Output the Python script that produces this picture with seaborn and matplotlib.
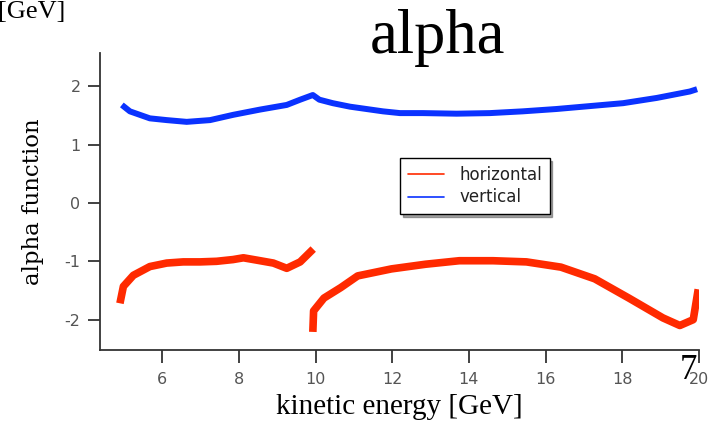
import matplotlib
matplotlib.use("Agg")
import matplotlib.pyplot as plt
import seaborn as sns
import pandas as pd
from matplotlib.lines import Line2D

# ---- data ----
vert_x = [4.95, 5.16, 5.68, 6.12, 6.64, 7.25, 7.85, 8.55, 9.25, 9.6, 9.93, 10.1,
          10.45, 10.9, 11.76, 12.2, 12.8, 13.68, 14.55, 15.4, 16.28, 17.15, 18.02,
          18.9, 19.76, 19.95]
vert_y = [1.68, 1.57, 1.45, 1.42, 1.39, 1.42, 1.51, 1.60, 1.68, 1.77, 1.85, 1.77,
          1.71, 1.65, 1.57, 1.54, 1.54, 1.53, 1.54, 1.57, 1.61, 1.66, 1.71,
          1.80, 1.91, 1.95]

hor1_x = [4.90, 4.99, 5.25, 5.68, 6.12, 6.55, 6.99, 7.42, 7.85, 8.12, 8.47, 8.90,
          9.25, 9.60, 9.94]
hor1_y = [-1.72, -1.43, -1.24, -1.09, -1.03, -1.01, -1.01, -1.00, -0.97, -0.94,
          -0.98, -1.03, -1.12, -1.01, -0.79]

hor2_x = [9.93, 9.95, 10.22, 10.66, 11.10, 11.98, 12.87, 13.75, 14.63, 15.50,
          16.40, 17.28, 18.17, 19.06, 19.50, 19.85, 19.98]
hor2_y = [-2.21, -1.85, -1.63, -1.45, -1.25, -1.13, -1.05, -0.99, -0.99, -1.01,
          -1.10, -1.30, -1.63, -1.97, -2.10, -2.00, -1.48]

x_ticks = [6, 8, 10, 12, 14, 16, 18, 20]
y_ticks = [-2, -1, 0, 1, 2]
series_names = ["horizontal", "vertical"]

RED = "#ff2a00"
BLUE = "#0a32ff"

sns.set_theme(style="ticks")
plt.rcParams["font.family"] = ["DejaVu Sans"]
plt.rcParams["text.color"] = "black"
plt.rcParams["axes.labelcolor"] = "black"

fig = plt.figure(figsize=(7.11, 4.23), dpi=100)
ax = fig.add_axes([100 / 711, 73 / 423, 599 / 711, 297 / 423])

sns.lineplot(x=vert_x, y=vert_y, ax=ax, color=BLUE, lw=4.3, sort=False,
             estimator=None, solid_capstyle="butt")
sns.lineplot(x=hor1_x, y=hor1_y, ax=ax, color=RED, lw=5.5, sort=False,
             estimator=None, solid_capstyle="butt")
sns.lineplot(x=hor2_x, y=hor2_y, ax=ax, color=RED, lw=5.5, sort=False,
             estimator=None, solid_capstyle="butt")

ax.set_xlim(4.38, 20)
ax.set_ylim(-2.52, 2.57)
ax.set_xticks(x_ticks)
ax.set_yticks(y_ticks)
ax.set_xticklabels([str(t) for t in x_ticks])
ax.set_yticklabels([str(t) for t in y_ticks])
ax.tick_params(axis="both", length=9, width=1.3, colors="#333333",
               labelcolor="#555555", labelsize=11.5)
ax.tick_params(axis="x", pad=7)
ax.tick_params(axis="y", pad=5)
for s in ["top", "right"]:
    ax.spines[s].set_visible(False)
for s in ["left", "bottom"]:
    ax.spines[s].set_color("#333333")
    ax.spines[s].set_linewidth(1.3)

ax.set_xlabel("kinetic energy [GeV]", family=["Liberation Serif", "DejaVu Serif"],
              fontsize=21, labelpad=5)
ax.set_ylabel("alpha function", family=["DejaVu Serif"], fontsize=16.5,
              labelpad=15)

fig.text(437 / 711, 1 - 38 / 423, "alpha", family=["Liberation Serif"],
         fontsize=45, ha="center", va="center")
fig.text(-2 / 711, 1 - 18 / 423, "[GeV]", family=["Liberation Serif"],
         fontsize=19, ha="left", va="baseline")
fig.text(688 / 711, 1 - 370 / 423, "7", family=["Liberation Serif"],
         fontsize=25, ha="center", va="center")

handles = [Line2D([0], [0], color=RED, lw=1.2), Line2D([0], [0], color=BLUE, lw=1.2)]
leg = ax.legend(handles, series_names, loc="center",
                bbox_to_anchor=(475 / 711, 1 - 186 / 423),
                bbox_transform=fig.transFigure, fontsize=12, frameon=True,
                fancybox=False, shadow=True, handlelength=2.2, borderpad=0.45,
                labelspacing=0.3, handletextpad=0.9, borderaxespad=0)
leg.get_frame().set_edgecolor("black")
leg.get_frame().set_linewidth(1.0)
for t in leg.get_texts():
    t.set_color("#222222")

fig.savefig("out.png", dpi=100)
